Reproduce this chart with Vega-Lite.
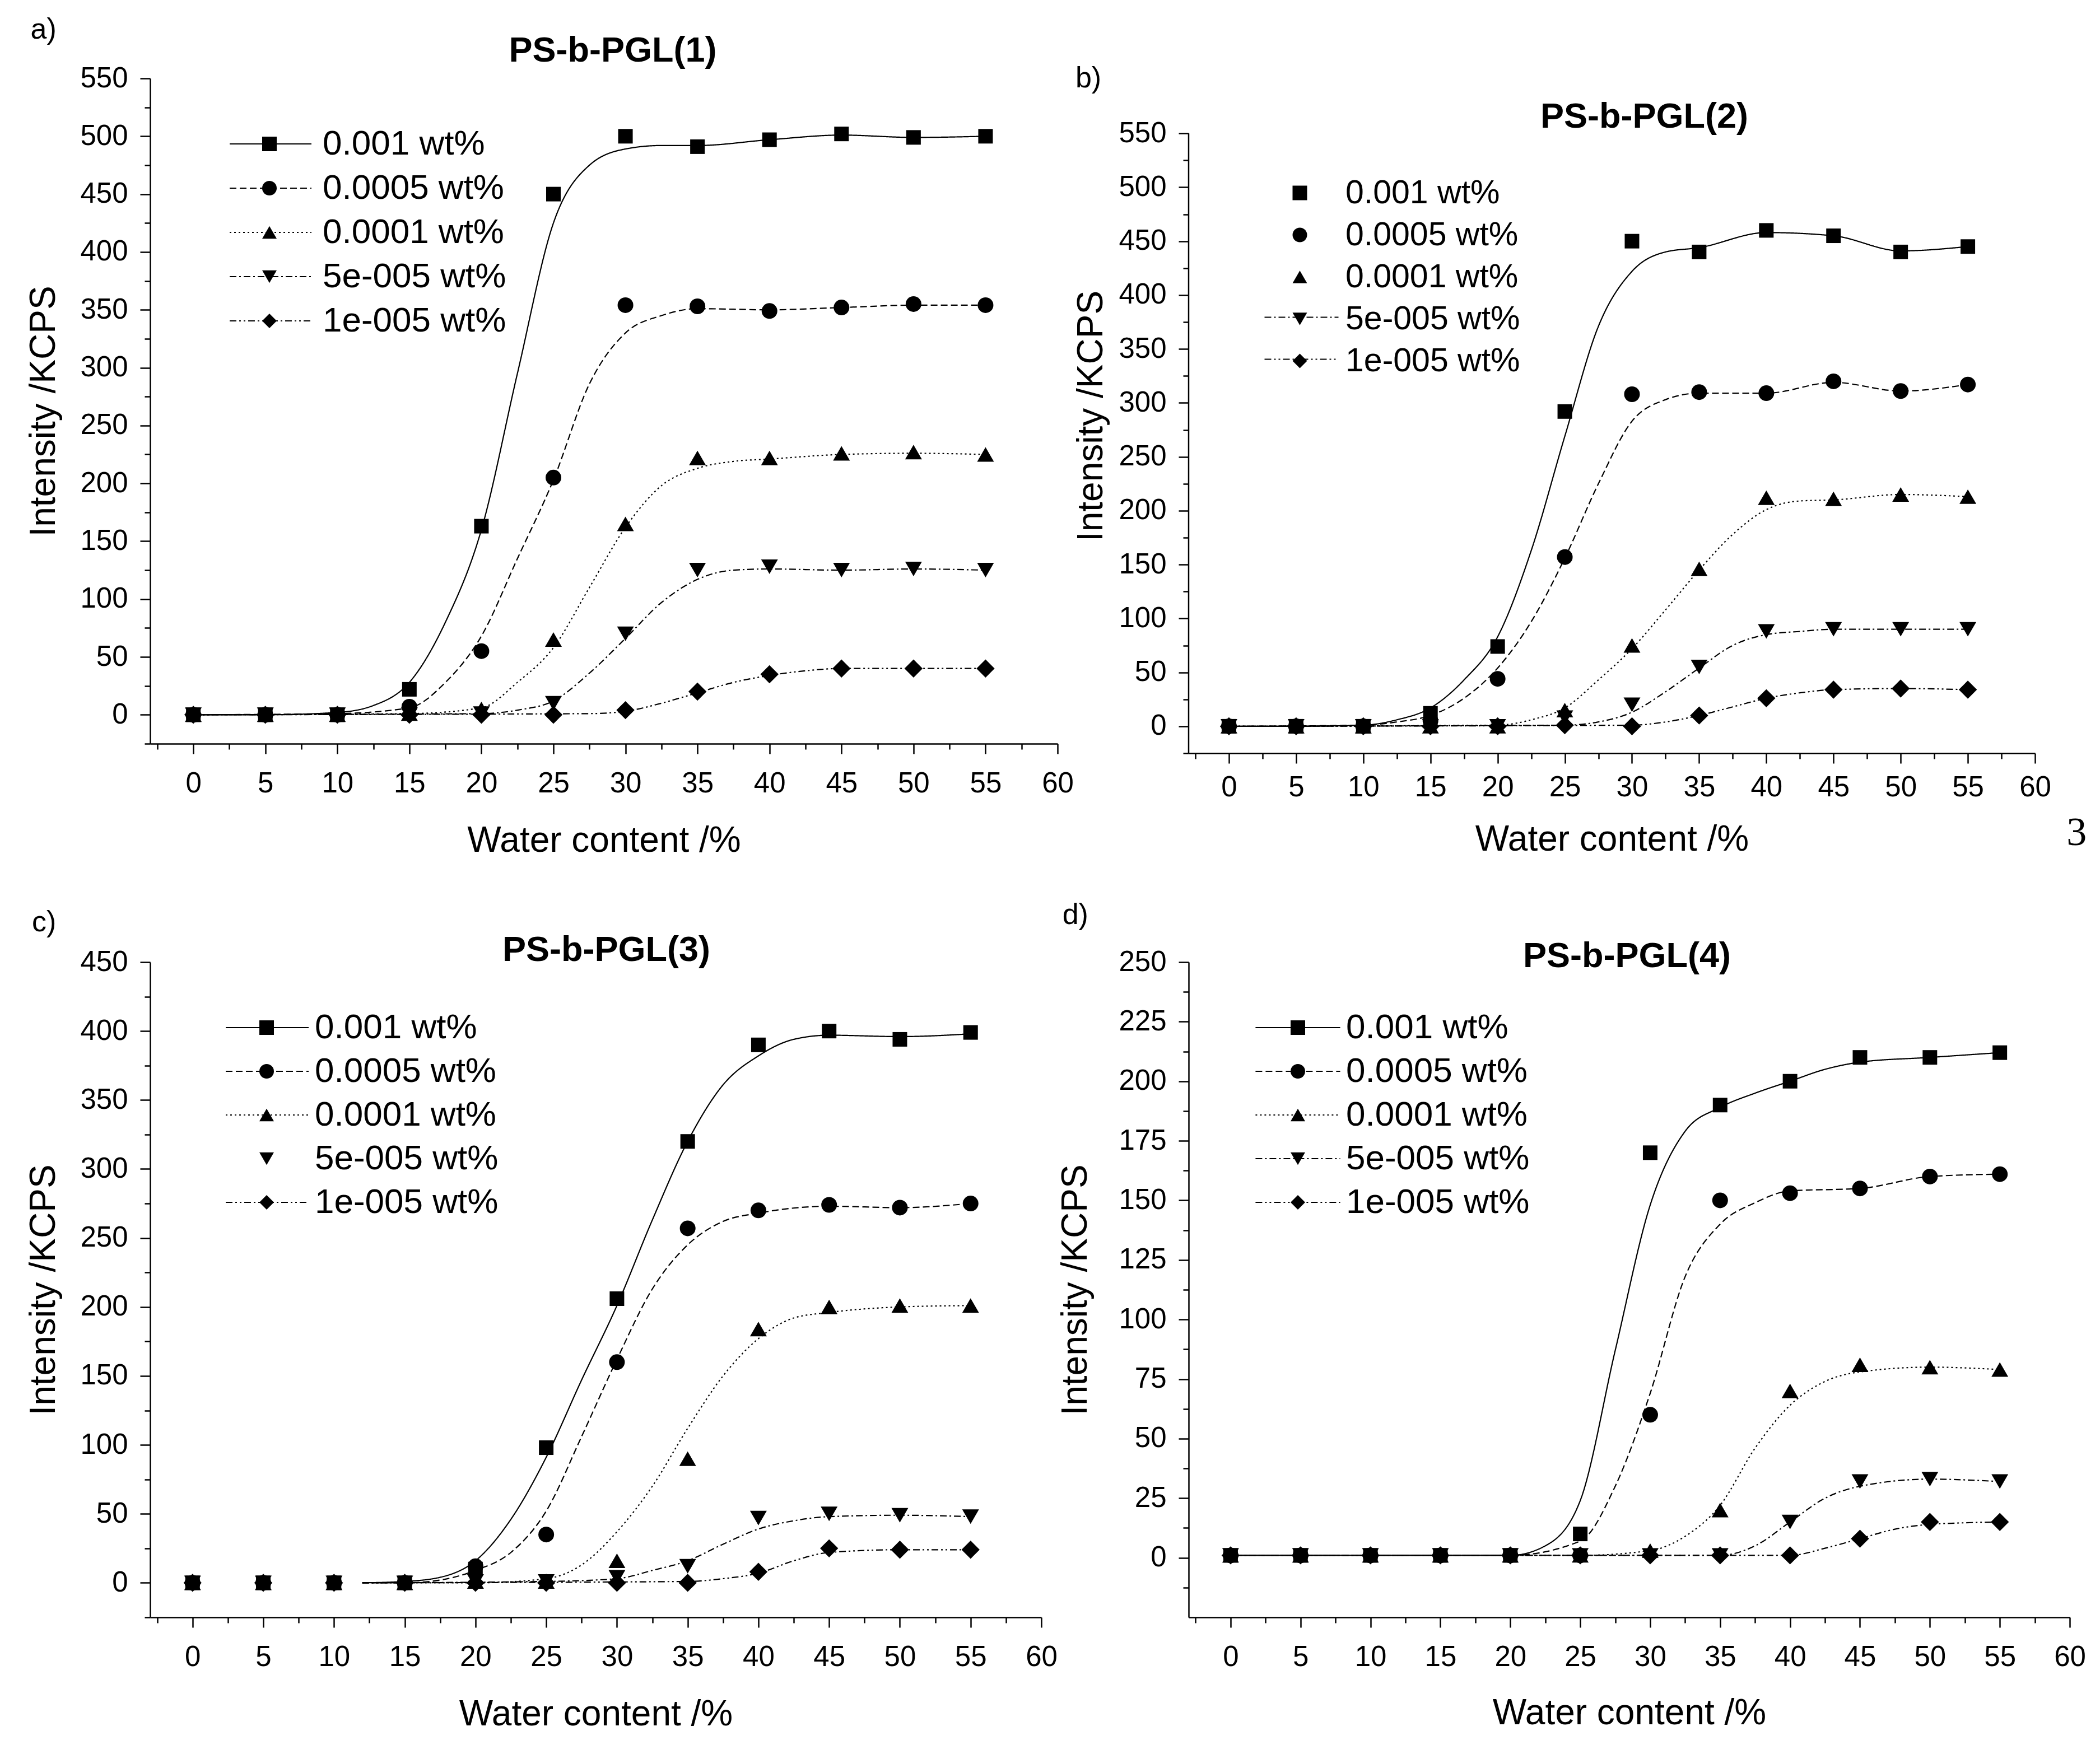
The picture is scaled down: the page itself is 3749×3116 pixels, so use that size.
{
"$schema": "https://vega.github.io/schema/vega-lite/v6.json",
"background": "white",
"padding": {"left": 46, "top": 27, "right": 0, "bottom": 0},
"columns": 2,
"spacing": {"row": 373, "column": 234},
"bounds": "flush",
"resolve": {"scale": {"shape": "independent", "strokeDash": "independent"}},
"config": {
 "font": "Liberation Sans",
 "view": {"stroke": null},
 "axis": {"grid": false, "domainColor": "black", "domainWidth": 2.5, "tickColor": "black", "tickWidth": 2.5, "labelColor": "black", "labelFontSize": 51, "titleColor": "black", "titleFontSize": 64, "titleFontWeight": "normal", "labelFont": "Liberation Sans", "titleFont": "Liberation Sans"},
 "title": {"fontSize": 63, "fontWeight": "bold", "color": "black", "anchor": "middle", "font": "Liberation Sans"},
 "legend": {"labelFontSize": 62, "labelColor": "black", "labelFont": "Liberation Sans", "labelLimit": 2000, "padding": 0, "title": null}
},
"datasets": {
"pts": [
{"p":"a","s":"0.001 wt%","x":0,"y":0},{"p":"a","s":"0.001 wt%","x":5,"y":0},{"p":"a","s":"0.001 wt%","x":10,"y":0},{"p":"a","s":"0.001 wt%","x":15,"y":22},{"p":"a","s":"0.001 wt%","x":20,"y":163},{"p":"a","s":"0.001 wt%","x":25,"y":450},{"p":"a","s":"0.001 wt%","x":30,"y":500},{"p":"a","s":"0.001 wt%","x":35,"y":491},{"p":"a","s":"0.001 wt%","x":40,"y":497},{"p":"a","s":"0.001 wt%","x":45,"y":502},{"p":"a","s":"0.001 wt%","x":50,"y":499},{"p":"a","s":"0.001 wt%","x":55,"y":500},
{"p":"a","s":"0.0005 wt%","x":0,"y":0},{"p":"a","s":"0.0005 wt%","x":5,"y":0},{"p":"a","s":"0.0005 wt%","x":10,"y":0},{"p":"a","s":"0.0005 wt%","x":15,"y":7},{"p":"a","s":"0.0005 wt%","x":20,"y":55},{"p":"a","s":"0.0005 wt%","x":25,"y":205},{"p":"a","s":"0.0005 wt%","x":30,"y":354},{"p":"a","s":"0.0005 wt%","x":35,"y":353},{"p":"a","s":"0.0005 wt%","x":40,"y":349},{"p":"a","s":"0.0005 wt%","x":45,"y":352},{"p":"a","s":"0.0005 wt%","x":50,"y":355},{"p":"a","s":"0.0005 wt%","x":55,"y":354},
{"p":"a","s":"0.0001 wt%","x":0,"y":0},{"p":"a","s":"0.0001 wt%","x":5,"y":0},{"p":"a","s":"0.0001 wt%","x":10,"y":0},{"p":"a","s":"0.0001 wt%","x":15,"y":1},{"p":"a","s":"0.0001 wt%","x":20,"y":5},{"p":"a","s":"0.0001 wt%","x":25,"y":65},{"p":"a","s":"0.0001 wt%","x":30,"y":165},{"p":"a","s":"0.0001 wt%","x":35,"y":222},{"p":"a","s":"0.0001 wt%","x":40,"y":222},{"p":"a","s":"0.0001 wt%","x":45,"y":226},{"p":"a","s":"0.0001 wt%","x":50,"y":227},{"p":"a","s":"0.0001 wt%","x":55,"y":225},
{"p":"a","s":"5e-005 wt%","x":0,"y":0},{"p":"a","s":"5e-005 wt%","x":5,"y":0},{"p":"a","s":"5e-005 wt%","x":10,"y":0},{"p":"a","s":"5e-005 wt%","x":15,"y":0},{"p":"a","s":"5e-005 wt%","x":20,"y":1},{"p":"a","s":"5e-005 wt%","x":25,"y":10},{"p":"a","s":"5e-005 wt%","x":30,"y":70},{"p":"a","s":"5e-005 wt%","x":35,"y":125},{"p":"a","s":"5e-005 wt%","x":40,"y":128},{"p":"a","s":"5e-005 wt%","x":45,"y":125},{"p":"a","s":"5e-005 wt%","x":50,"y":126},{"p":"a","s":"5e-005 wt%","x":55,"y":125},
{"p":"a","s":"1e-005 wt%","x":0,"y":0},{"p":"a","s":"1e-005 wt%","x":5,"y":0},{"p":"a","s":"1e-005 wt%","x":10,"y":0},{"p":"a","s":"1e-005 wt%","x":15,"y":0},{"p":"a","s":"1e-005 wt%","x":20,"y":0},{"p":"a","s":"1e-005 wt%","x":25,"y":0},{"p":"a","s":"1e-005 wt%","x":30,"y":4},{"p":"a","s":"1e-005 wt%","x":35,"y":20},{"p":"a","s":"1e-005 wt%","x":40,"y":35},{"p":"a","s":"1e-005 wt%","x":45,"y":40},{"p":"a","s":"1e-005 wt%","x":50,"y":40},{"p":"a","s":"1e-005 wt%","x":55,"y":40},
{"p":"b","s":"0.001 wt%","x":0,"y":0},{"p":"b","s":"0.001 wt%","x":5,"y":0},{"p":"b","s":"0.001 wt%","x":10,"y":0},{"p":"b","s":"0.001 wt%","x":15,"y":12},{"p":"b","s":"0.001 wt%","x":20,"y":74},{"p":"b","s":"0.001 wt%","x":25,"y":292},{"p":"b","s":"0.001 wt%","x":30,"y":450},{"p":"b","s":"0.001 wt%","x":35,"y":440},{"p":"b","s":"0.001 wt%","x":40,"y":460},{"p":"b","s":"0.001 wt%","x":45,"y":455},{"p":"b","s":"0.001 wt%","x":50,"y":440},{"p":"b","s":"0.001 wt%","x":55,"y":445},
{"p":"b","s":"0.0005 wt%","x":0,"y":0},{"p":"b","s":"0.0005 wt%","x":5,"y":0},{"p":"b","s":"0.0005 wt%","x":10,"y":0},{"p":"b","s":"0.0005 wt%","x":15,"y":5},{"p":"b","s":"0.0005 wt%","x":20,"y":44},{"p":"b","s":"0.0005 wt%","x":25,"y":157},{"p":"b","s":"0.0005 wt%","x":30,"y":308},{"p":"b","s":"0.0005 wt%","x":35,"y":310},{"p":"b","s":"0.0005 wt%","x":40,"y":309},{"p":"b","s":"0.0005 wt%","x":45,"y":320},{"p":"b","s":"0.0005 wt%","x":50,"y":311},{"p":"b","s":"0.0005 wt%","x":55,"y":317},
{"p":"b","s":"0.0001 wt%","x":0,"y":0},{"p":"b","s":"0.0001 wt%","x":5,"y":0},{"p":"b","s":"0.0001 wt%","x":10,"y":0},{"p":"b","s":"0.0001 wt%","x":15,"y":0},{"p":"b","s":"0.0001 wt%","x":20,"y":0},{"p":"b","s":"0.0001 wt%","x":25,"y":15},{"p":"b","s":"0.0001 wt%","x":30,"y":75},{"p":"b","s":"0.0001 wt%","x":35,"y":146},{"p":"b","s":"0.0001 wt%","x":40,"y":212},{"p":"b","s":"0.0001 wt%","x":45,"y":211},{"p":"b","s":"0.0001 wt%","x":50,"y":215},{"p":"b","s":"0.0001 wt%","x":55,"y":213},
{"p":"b","s":"5e-005 wt%","x":0,"y":0},{"p":"b","s":"5e-005 wt%","x":5,"y":0},{"p":"b","s":"5e-005 wt%","x":10,"y":0},{"p":"b","s":"5e-005 wt%","x":15,"y":0},{"p":"b","s":"5e-005 wt%","x":20,"y":0},{"p":"b","s":"5e-005 wt%","x":25,"y":8},{"p":"b","s":"5e-005 wt%","x":30,"y":20},{"p":"b","s":"5e-005 wt%","x":35,"y":55},{"p":"b","s":"5e-005 wt%","x":40,"y":88},{"p":"b","s":"5e-005 wt%","x":45,"y":90},{"p":"b","s":"5e-005 wt%","x":50,"y":90},{"p":"b","s":"5e-005 wt%","x":55,"y":90},
{"p":"b","s":"1e-005 wt%","x":0,"y":0},{"p":"b","s":"1e-005 wt%","x":5,"y":0},{"p":"b","s":"1e-005 wt%","x":10,"y":0},{"p":"b","s":"1e-005 wt%","x":15,"y":0},{"p":"b","s":"1e-005 wt%","x":20,"y":0},{"p":"b","s":"1e-005 wt%","x":25,"y":1},{"p":"b","s":"1e-005 wt%","x":30,"y":0},{"p":"b","s":"1e-005 wt%","x":35,"y":10},{"p":"b","s":"1e-005 wt%","x":40,"y":26},{"p":"b","s":"1e-005 wt%","x":45,"y":34},{"p":"b","s":"1e-005 wt%","x":50,"y":35},{"p":"b","s":"1e-005 wt%","x":55,"y":34},
{"p":"c","s":"0.001 wt%","x":0,"y":0},{"p":"c","s":"0.001 wt%","x":5,"y":0},{"p":"c","s":"0.001 wt%","x":10,"y":0},{"p":"c","s":"0.001 wt%","x":15,"y":0},{"p":"c","s":"0.001 wt%","x":20,"y":10},{"p":"c","s":"0.001 wt%","x":25,"y":98},{"p":"c","s":"0.001 wt%","x":30,"y":206},{"p":"c","s":"0.001 wt%","x":35,"y":320},{"p":"c","s":"0.001 wt%","x":40,"y":390},{"p":"c","s":"0.001 wt%","x":45,"y":400},{"p":"c","s":"0.001 wt%","x":50,"y":394},{"p":"c","s":"0.001 wt%","x":55,"y":399},
{"p":"c","s":"0.0005 wt%","x":0,"y":0},{"p":"c","s":"0.0005 wt%","x":5,"y":0},{"p":"c","s":"0.0005 wt%","x":10,"y":0},{"p":"c","s":"0.0005 wt%","x":15,"y":0},{"p":"c","s":"0.0005 wt%","x":20,"y":12},{"p":"c","s":"0.0005 wt%","x":25,"y":35},{"p":"c","s":"0.0005 wt%","x":30,"y":160},{"p":"c","s":"0.0005 wt%","x":35,"y":257},{"p":"c","s":"0.0005 wt%","x":40,"y":270},{"p":"c","s":"0.0005 wt%","x":45,"y":274},{"p":"c","s":"0.0005 wt%","x":50,"y":272},{"p":"c","s":"0.0005 wt%","x":55,"y":275},
{"p":"c","s":"0.0001 wt%","x":0,"y":0},{"p":"c","s":"0.0001 wt%","x":5,"y":0},{"p":"c","s":"0.0001 wt%","x":10,"y":0},{"p":"c","s":"0.0001 wt%","x":15,"y":0},{"p":"c","s":"0.0001 wt%","x":20,"y":1},{"p":"c","s":"0.0001 wt%","x":25,"y":1},{"p":"c","s":"0.0001 wt%","x":30,"y":16},{"p":"c","s":"0.0001 wt%","x":35,"y":90},{"p":"c","s":"0.0001 wt%","x":40,"y":184},{"p":"c","s":"0.0001 wt%","x":45,"y":200},{"p":"c","s":"0.0001 wt%","x":50,"y":201},{"p":"c","s":"0.0001 wt%","x":55,"y":201},
{"p":"c","s":"5e-005 wt%","x":0,"y":0},{"p":"c","s":"5e-005 wt%","x":5,"y":0},{"p":"c","s":"5e-005 wt%","x":10,"y":0},{"p":"c","s":"5e-005 wt%","x":15,"y":0},{"p":"c","s":"5e-005 wt%","x":20,"y":1},{"p":"c","s":"5e-005 wt%","x":25,"y":1},{"p":"c","s":"5e-005 wt%","x":30,"y":4},{"p":"c","s":"5e-005 wt%","x":35,"y":12},{"p":"c","s":"5e-005 wt%","x":40,"y":47},{"p":"c","s":"5e-005 wt%","x":45,"y":50},{"p":"c","s":"5e-005 wt%","x":50,"y":49},{"p":"c","s":"5e-005 wt%","x":55,"y":48},
{"p":"c","s":"1e-005 wt%","x":0,"y":0},{"p":"c","s":"1e-005 wt%","x":5,"y":0},{"p":"c","s":"1e-005 wt%","x":10,"y":0},{"p":"c","s":"1e-005 wt%","x":15,"y":0},{"p":"c","s":"1e-005 wt%","x":20,"y":0},{"p":"c","s":"1e-005 wt%","x":25,"y":0},{"p":"c","s":"1e-005 wt%","x":30,"y":0},{"p":"c","s":"1e-005 wt%","x":35,"y":0},{"p":"c","s":"1e-005 wt%","x":40,"y":8},{"p":"c","s":"1e-005 wt%","x":45,"y":25},{"p":"c","s":"1e-005 wt%","x":50,"y":24},{"p":"c","s":"1e-005 wt%","x":55,"y":24},
{"p":"d","s":"0.001 wt%","x":0,"y":1},{"p":"d","s":"0.001 wt%","x":5,"y":1},{"p":"d","s":"0.001 wt%","x":10,"y":1},{"p":"d","s":"0.001 wt%","x":15,"y":1},{"p":"d","s":"0.001 wt%","x":20,"y":1},{"p":"d","s":"0.001 wt%","x":25,"y":10},{"p":"d","s":"0.001 wt%","x":30,"y":170},{"p":"d","s":"0.001 wt%","x":35,"y":190},{"p":"d","s":"0.001 wt%","x":40,"y":200},{"p":"d","s":"0.001 wt%","x":45,"y":210},{"p":"d","s":"0.001 wt%","x":50,"y":210},{"p":"d","s":"0.001 wt%","x":55,"y":212},
{"p":"d","s":"0.0005 wt%","x":0,"y":1},{"p":"d","s":"0.0005 wt%","x":5,"y":1},{"p":"d","s":"0.0005 wt%","x":10,"y":1},{"p":"d","s":"0.0005 wt%","x":15,"y":1},{"p":"d","s":"0.0005 wt%","x":20,"y":1},{"p":"d","s":"0.0005 wt%","x":25,"y":1},{"p":"d","s":"0.0005 wt%","x":30,"y":60},{"p":"d","s":"0.0005 wt%","x":35,"y":150},{"p":"d","s":"0.0005 wt%","x":40,"y":153},{"p":"d","s":"0.0005 wt%","x":45,"y":155},{"p":"d","s":"0.0005 wt%","x":50,"y":160},{"p":"d","s":"0.0005 wt%","x":55,"y":161},
{"p":"d","s":"0.0001 wt%","x":0,"y":1},{"p":"d","s":"0.0001 wt%","x":5,"y":1},{"p":"d","s":"0.0001 wt%","x":10,"y":1},{"p":"d","s":"0.0001 wt%","x":15,"y":1},{"p":"d","s":"0.0001 wt%","x":20,"y":1},{"p":"d","s":"0.0001 wt%","x":25,"y":1},{"p":"d","s":"0.0001 wt%","x":30,"y":3},{"p":"d","s":"0.0001 wt%","x":35,"y":20},{"p":"d","s":"0.0001 wt%","x":40,"y":70},{"p":"d","s":"0.0001 wt%","x":45,"y":81},{"p":"d","s":"0.0001 wt%","x":50,"y":80},{"p":"d","s":"0.0001 wt%","x":55,"y":79},
{"p":"d","s":"5e-005 wt%","x":0,"y":1},{"p":"d","s":"5e-005 wt%","x":5,"y":1},{"p":"d","s":"5e-005 wt%","x":10,"y":1},{"p":"d","s":"5e-005 wt%","x":15,"y":1},{"p":"d","s":"5e-005 wt%","x":20,"y":1},{"p":"d","s":"5e-005 wt%","x":25,"y":1},{"p":"d","s":"5e-005 wt%","x":30,"y":1},{"p":"d","s":"5e-005 wt%","x":35,"y":1},{"p":"d","s":"5e-005 wt%","x":40,"y":15},{"p":"d","s":"5e-005 wt%","x":45,"y":32},{"p":"d","s":"5e-005 wt%","x":50,"y":33},{"p":"d","s":"5e-005 wt%","x":55,"y":32},
{"p":"d","s":"1e-005 wt%","x":0,"y":1},{"p":"d","s":"1e-005 wt%","x":5,"y":1},{"p":"d","s":"1e-005 wt%","x":10,"y":1},{"p":"d","s":"1e-005 wt%","x":15,"y":1},{"p":"d","s":"1e-005 wt%","x":20,"y":1},{"p":"d","s":"1e-005 wt%","x":25,"y":1},{"p":"d","s":"1e-005 wt%","x":30,"y":1},{"p":"d","s":"1e-005 wt%","x":35,"y":1},{"p":"d","s":"1e-005 wt%","x":40,"y":1},{"p":"d","s":"1e-005 wt%","x":45,"y":8},{"p":"d","s":"1e-005 wt%","x":50,"y":15},{"p":"d","s":"1e-005 wt%","x":55,"y":15}
],
"fit": [
{"p":"a","s":"0.001 wt%","x":0,"y":0},{"p":"a","s":"0.001 wt%","x":5,"y":0},{"p":"a","s":"0.001 wt%","x":10,"y":2},{"p":"a","s":"0.001 wt%","x":12.5,"y":8},{"p":"a","s":"0.001 wt%","x":15,"y":28},{"p":"a","s":"0.001 wt%","x":17.5,"y":80},{"p":"a","s":"0.001 wt%","x":20,"y":160},{"p":"a","s":"0.001 wt%","x":22.5,"y":295},{"p":"a","s":"0.001 wt%","x":25,"y":425},{"p":"a","s":"0.001 wt%","x":27.5,"y":475},{"p":"a","s":"0.001 wt%","x":30,"y":489},{"p":"a","s":"0.001 wt%","x":32.5,"y":492},{"p":"a","s":"0.001 wt%","x":35,"y":492},{"p":"a","s":"0.001 wt%","x":40,"y":497},{"p":"a","s":"0.001 wt%","x":45,"y":501},{"p":"a","s":"0.001 wt%","x":50,"y":499},{"p":"a","s":"0.001 wt%","x":55,"y":500},
{"p":"a","s":"0.0005 wt%","x":0,"y":0},{"p":"a","s":"0.0005 wt%","x":10,"y":1},{"p":"a","s":"0.0005 wt%","x":15,"y":6},{"p":"a","s":"0.0005 wt%","x":17.5,"y":28},{"p":"a","s":"0.0005 wt%","x":20,"y":68},{"p":"a","s":"0.0005 wt%","x":22.5,"y":135},{"p":"a","s":"0.0005 wt%","x":25,"y":203},{"p":"a","s":"0.0005 wt%","x":27.5,"y":286},{"p":"a","s":"0.0005 wt%","x":30,"y":330},{"p":"a","s":"0.0005 wt%","x":32.5,"y":345},{"p":"a","s":"0.0005 wt%","x":35,"y":351},{"p":"a","s":"0.0005 wt%","x":40,"y":350},{"p":"a","s":"0.0005 wt%","x":45,"y":352},{"p":"a","s":"0.0005 wt%","x":50,"y":354},{"p":"a","s":"0.0005 wt%","x":55,"y":354},
{"p":"a","s":"0.0001 wt%","x":0,"y":0},{"p":"a","s":"0.0001 wt%","x":15,"y":1},{"p":"a","s":"0.0001 wt%","x":20,"y":6},{"p":"a","s":"0.0001 wt%","x":22.5,"y":28},{"p":"a","s":"0.0001 wt%","x":25,"y":58},{"p":"a","s":"0.0001 wt%","x":27.5,"y":110},{"p":"a","s":"0.0001 wt%","x":30,"y":162},{"p":"a","s":"0.0001 wt%","x":32.5,"y":198},{"p":"a","s":"0.0001 wt%","x":35,"y":213},{"p":"a","s":"0.0001 wt%","x":37.5,"y":219},{"p":"a","s":"0.0001 wt%","x":40,"y":221},{"p":"a","s":"0.0001 wt%","x":45,"y":225},{"p":"a","s":"0.0001 wt%","x":50,"y":226},{"p":"a","s":"0.0001 wt%","x":55,"y":225},
{"p":"a","s":"5e-005 wt%","x":0,"y":0},{"p":"a","s":"5e-005 wt%","x":20,"y":1},{"p":"a","s":"5e-005 wt%","x":22.5,"y":4},{"p":"a","s":"5e-005 wt%","x":25,"y":12},{"p":"a","s":"5e-005 wt%","x":27.5,"y":36},{"p":"a","s":"5e-005 wt%","x":30,"y":66},{"p":"a","s":"5e-005 wt%","x":32.5,"y":97},{"p":"a","s":"5e-005 wt%","x":35,"y":117},{"p":"a","s":"5e-005 wt%","x":37.5,"y":125},{"p":"a","s":"5e-005 wt%","x":40,"y":126},{"p":"a","s":"5e-005 wt%","x":45,"y":125},{"p":"a","s":"5e-005 wt%","x":50,"y":126},{"p":"a","s":"5e-005 wt%","x":55,"y":125},
{"p":"a","s":"1e-005 wt%","x":0,"y":0},{"p":"a","s":"1e-005 wt%","x":27.5,"y":1},{"p":"a","s":"1e-005 wt%","x":30,"y":3},{"p":"a","s":"1e-005 wt%","x":32.5,"y":10},{"p":"a","s":"1e-005 wt%","x":35,"y":19},{"p":"a","s":"1e-005 wt%","x":37.5,"y":28},{"p":"a","s":"1e-005 wt%","x":40,"y":34},{"p":"a","s":"1e-005 wt%","x":42.5,"y":38},{"p":"a","s":"1e-005 wt%","x":45,"y":40},{"p":"a","s":"1e-005 wt%","x":50,"y":40},{"p":"a","s":"1e-005 wt%","x":55,"y":40},
{"p":"b","s":"0.001 wt%","x":0,"y":0},{"p":"b","s":"0.001 wt%","x":5,"y":0},{"p":"b","s":"0.001 wt%","x":10,"y":1},{"p":"b","s":"0.001 wt%","x":12.5,"y":6},{"p":"b","s":"0.001 wt%","x":15,"y":17},{"p":"b","s":"0.001 wt%","x":17.5,"y":43},{"p":"b","s":"0.001 wt%","x":20,"y":83},{"p":"b","s":"0.001 wt%","x":22.5,"y":163},{"p":"b","s":"0.001 wt%","x":25,"y":269},{"p":"b","s":"0.001 wt%","x":27.5,"y":371},{"p":"b","s":"0.001 wt%","x":30,"y":422},{"p":"b","s":"0.001 wt%","x":32.5,"y":440},{"p":"b","s":"0.001 wt%","x":35,"y":444},{"p":"b","s":"0.001 wt%","x":40,"y":458},{"p":"b","s":"0.001 wt%","x":45,"y":455},{"p":"b","s":"0.001 wt%","x":50,"y":441},{"p":"b","s":"0.001 wt%","x":55,"y":445},
{"p":"b","s":"0.0005 wt%","x":0,"y":0},{"p":"b","s":"0.0005 wt%","x":10,"y":1},{"p":"b","s":"0.0005 wt%","x":12.5,"y":4},{"p":"b","s":"0.0005 wt%","x":15,"y":10},{"p":"b","s":"0.0005 wt%","x":17.5,"y":26},{"p":"b","s":"0.0005 wt%","x":20,"y":54},{"p":"b","s":"0.0005 wt%","x":22.5,"y":97},{"p":"b","s":"0.0005 wt%","x":25,"y":156},{"p":"b","s":"0.0005 wt%","x":27.5,"y":225},{"p":"b","s":"0.0005 wt%","x":30,"y":283},{"p":"b","s":"0.0005 wt%","x":32.5,"y":303},{"p":"b","s":"0.0005 wt%","x":35,"y":309},{"p":"b","s":"0.0005 wt%","x":40,"y":309},{"p":"b","s":"0.0005 wt%","x":45,"y":319},{"p":"b","s":"0.0005 wt%","x":50,"y":311},{"p":"b","s":"0.0005 wt%","x":55,"y":317},
{"p":"b","s":"0.0001 wt%","x":0,"y":0},{"p":"b","s":"0.0001 wt%","x":20,"y":1},{"p":"b","s":"0.0001 wt%","x":22.5,"y":6},{"p":"b","s":"0.0001 wt%","x":25,"y":17},{"p":"b","s":"0.0001 wt%","x":27.5,"y":43},{"p":"b","s":"0.0001 wt%","x":30,"y":72},{"p":"b","s":"0.0001 wt%","x":32.5,"y":108},{"p":"b","s":"0.0001 wt%","x":35,"y":145},{"p":"b","s":"0.0001 wt%","x":37.5,"y":178},{"p":"b","s":"0.0001 wt%","x":40,"y":201},{"p":"b","s":"0.0001 wt%","x":42.5,"y":209},{"p":"b","s":"0.0001 wt%","x":45,"y":210},{"p":"b","s":"0.0001 wt%","x":50,"y":215},{"p":"b","s":"0.0001 wt%","x":55,"y":213},
{"p":"b","s":"5e-005 wt%","x":0,"y":0},{"p":"b","s":"5e-005 wt%","x":25,"y":1},{"p":"b","s":"5e-005 wt%","x":27.5,"y":4},{"p":"b","s":"5e-005 wt%","x":30,"y":13},{"p":"b","s":"5e-005 wt%","x":32.5,"y":32},{"p":"b","s":"5e-005 wt%","x":35,"y":54},{"p":"b","s":"5e-005 wt%","x":37.5,"y":75},{"p":"b","s":"5e-005 wt%","x":40,"y":85},{"p":"b","s":"5e-005 wt%","x":42.5,"y":88},{"p":"b","s":"5e-005 wt%","x":45,"y":90},{"p":"b","s":"5e-005 wt%","x":50,"y":90},{"p":"b","s":"5e-005 wt%","x":55,"y":90},
{"p":"b","s":"1e-005 wt%","x":0,"y":0},{"p":"b","s":"1e-005 wt%","x":30,"y":1},{"p":"b","s":"1e-005 wt%","x":32.5,"y":4},{"p":"b","s":"1e-005 wt%","x":35,"y":10},{"p":"b","s":"1e-005 wt%","x":37.5,"y":18},{"p":"b","s":"1e-005 wt%","x":40,"y":26},{"p":"b","s":"1e-005 wt%","x":42.5,"y":31},{"p":"b","s":"1e-005 wt%","x":45,"y":34},{"p":"b","s":"1e-005 wt%","x":50,"y":35},{"p":"b","s":"1e-005 wt%","x":55,"y":34},
{"p":"c","s":"0.001 wt%","x":12,"y":0},{"p":"c","s":"0.001 wt%","x":15,"y":1},{"p":"c","s":"0.001 wt%","x":17.5,"y":4},{"p":"c","s":"0.001 wt%","x":20,"y":16},{"p":"c","s":"0.001 wt%","x":22.5,"y":46},{"p":"c","s":"0.001 wt%","x":25,"y":91},{"p":"c","s":"0.001 wt%","x":27.5,"y":147},{"p":"c","s":"0.001 wt%","x":30,"y":201},{"p":"c","s":"0.001 wt%","x":32.5,"y":263},{"p":"c","s":"0.001 wt%","x":35,"y":320},{"p":"c","s":"0.001 wt%","x":37.5,"y":361},{"p":"c","s":"0.001 wt%","x":40,"y":382},{"p":"c","s":"0.001 wt%","x":42.5,"y":394},{"p":"c","s":"0.001 wt%","x":45,"y":397},{"p":"c","s":"0.001 wt%","x":50,"y":396},{"p":"c","s":"0.001 wt%","x":55,"y":398},
{"p":"c","s":"0.0005 wt%","x":12,"y":0},{"p":"c","s":"0.0005 wt%","x":15,"y":0},{"p":"c","s":"0.0005 wt%","x":17.5,"y":2},{"p":"c","s":"0.0005 wt%","x":20,"y":9},{"p":"c","s":"0.0005 wt%","x":22.5,"y":22},{"p":"c","s":"0.0005 wt%","x":25,"y":52},{"p":"c","s":"0.0005 wt%","x":27.5,"y":106},{"p":"c","s":"0.0005 wt%","x":30,"y":162},{"p":"c","s":"0.0005 wt%","x":32.5,"y":213},{"p":"c","s":"0.0005 wt%","x":35,"y":245},{"p":"c","s":"0.0005 wt%","x":37.5,"y":262},{"p":"c","s":"0.0005 wt%","x":40,"y":268},{"p":"c","s":"0.0005 wt%","x":45,"y":273},{"p":"c","s":"0.0005 wt%","x":50,"y":272},{"p":"c","s":"0.0005 wt%","x":55,"y":275},
{"p":"c","s":"0.0001 wt%","x":12,"y":0},{"p":"c","s":"0.0001 wt%","x":20,"y":0},{"p":"c","s":"0.0001 wt%","x":25,"y":3},{"p":"c","s":"0.0001 wt%","x":27.5,"y":13},{"p":"c","s":"0.0001 wt%","x":30,"y":37},{"p":"c","s":"0.0001 wt%","x":32.5,"y":70},{"p":"c","s":"0.0001 wt%","x":35,"y":112},{"p":"c","s":"0.0001 wt%","x":37.5,"y":150},{"p":"c","s":"0.0001 wt%","x":40,"y":177},{"p":"c","s":"0.0001 wt%","x":42.5,"y":192},{"p":"c","s":"0.0001 wt%","x":45,"y":196},{"p":"c","s":"0.0001 wt%","x":50,"y":200},{"p":"c","s":"0.0001 wt%","x":55,"y":201},
{"p":"c","s":"5e-005 wt%","x":12,"y":0},{"p":"c","s":"5e-005 wt%","x":25,"y":1},{"p":"c","s":"5e-005 wt%","x":30,"y":3},{"p":"c","s":"5e-005 wt%","x":32.5,"y":9},{"p":"c","s":"5e-005 wt%","x":35,"y":16},{"p":"c","s":"5e-005 wt%","x":37.5,"y":28},{"p":"c","s":"5e-005 wt%","x":40,"y":39},{"p":"c","s":"5e-005 wt%","x":42.5,"y":45},{"p":"c","s":"5e-005 wt%","x":45,"y":48},{"p":"c","s":"5e-005 wt%","x":50,"y":49},{"p":"c","s":"5e-005 wt%","x":55,"y":48},
{"p":"c","s":"1e-005 wt%","x":12,"y":0},{"p":"c","s":"1e-005 wt%","x":35,"y":1},{"p":"c","s":"1e-005 wt%","x":37.5,"y":3},{"p":"c","s":"1e-005 wt%","x":40,"y":7},{"p":"c","s":"1e-005 wt%","x":42.5,"y":16},{"p":"c","s":"1e-005 wt%","x":45,"y":22},{"p":"c","s":"1e-005 wt%","x":50,"y":24},{"p":"c","s":"1e-005 wt%","x":55,"y":24},
{"p":"d","s":"0.001 wt%","x":0,"y":1},{"p":"d","s":"0.001 wt%","x":20,"y":1},{"p":"d","s":"0.001 wt%","x":22.5,"y":5},{"p":"d","s":"0.001 wt%","x":25,"y":24},{"p":"d","s":"0.001 wt%","x":27.5,"y":87},{"p":"d","s":"0.001 wt%","x":30,"y":148},{"p":"d","s":"0.001 wt%","x":32.5,"y":179},{"p":"d","s":"0.001 wt%","x":35,"y":189},{"p":"d","s":"0.001 wt%","x":37.5,"y":195},{"p":"d","s":"0.001 wt%","x":40,"y":200},{"p":"d","s":"0.001 wt%","x":42.5,"y":205},{"p":"d","s":"0.001 wt%","x":45,"y":208},{"p":"d","s":"0.001 wt%","x":50,"y":210},{"p":"d","s":"0.001 wt%","x":55,"y":212},
{"p":"d","s":"0.0005 wt%","x":0,"y":1},{"p":"d","s":"0.0005 wt%","x":20,"y":1},{"p":"d","s":"0.0005 wt%","x":25,"y":7},{"p":"d","s":"0.0005 wt%","x":27.5,"y":30},{"p":"d","s":"0.0005 wt%","x":30,"y":69},{"p":"d","s":"0.0005 wt%","x":32.5,"y":118},{"p":"d","s":"0.0005 wt%","x":35,"y":140},{"p":"d","s":"0.0005 wt%","x":37.5,"y":149},{"p":"d","s":"0.0005 wt%","x":40,"y":154},{"p":"d","s":"0.0005 wt%","x":45,"y":155},{"p":"d","s":"0.0005 wt%","x":50,"y":160},{"p":"d","s":"0.0005 wt%","x":55,"y":161},
{"p":"d","s":"0.0001 wt%","x":0,"y":1},{"p":"d","s":"0.0001 wt%","x":25,"y":1},{"p":"d","s":"0.0001 wt%","x":30,"y":3},{"p":"d","s":"0.0001 wt%","x":32.5,"y":9},{"p":"d","s":"0.0001 wt%","x":35,"y":22},{"p":"d","s":"0.0001 wt%","x":37.5,"y":46},{"p":"d","s":"0.0001 wt%","x":40,"y":64},{"p":"d","s":"0.0001 wt%","x":42.5,"y":74},{"p":"d","s":"0.0001 wt%","x":45,"y":78},{"p":"d","s":"0.0001 wt%","x":50,"y":80},{"p":"d","s":"0.0001 wt%","x":55,"y":79},
{"p":"d","s":"5e-005 wt%","x":0,"y":1},{"p":"d","s":"5e-005 wt%","x":32.5,"y":1},{"p":"d","s":"5e-005 wt%","x":35,"y":1},{"p":"d","s":"5e-005 wt%","x":37.5,"y":5},{"p":"d","s":"5e-005 wt%","x":40,"y":15},{"p":"d","s":"5e-005 wt%","x":42.5,"y":25},{"p":"d","s":"5e-005 wt%","x":45,"y":30},{"p":"d","s":"5e-005 wt%","x":50,"y":33},{"p":"d","s":"5e-005 wt%","x":55,"y":32},
{"p":"d","s":"1e-005 wt%","x":0,"y":1},{"p":"d","s":"1e-005 wt%","x":37.5,"y":1},{"p":"d","s":"1e-005 wt%","x":40,"y":1},{"p":"d","s":"1e-005 wt%","x":42.5,"y":4},{"p":"d","s":"1e-005 wt%","x":45,"y":8},{"p":"d","s":"1e-005 wt%","x":47.5,"y":12},{"p":"d","s":"1e-005 wt%","x":50,"y":14},{"p":"d","s":"1e-005 wt%","x":55,"y":15}
]
},
"concat": [
{
 "width": 1620, "height": 1188,
 "title": {"text": "PS-b-PGL(1)", "frame": "group", "dx": 16, "offset": 0, "dy": 96},
 "layer": [
  {"data": {"name": "fit"}, "transform": [{"filter": "datum.p == 'a'"}],
   "mark": {"type": "line", "interpolate": "monotone", "strokeWidth": 2.2, "color": "black"},
   "encoding": {
    "x": {"field": "x", "type": "quantitative", "scale": {"domain": [-3, 60], "nice": false, "zero": false},
     "axis": {"title": "Water content /%", "values": [-2.5,0,2.5,5,7.5,10,12.5,15,17.5,20,22.5,25,27.5,30,32.5,35,37.5,40,42.5,45,47.5,50,52.5,55,57.5,60], "labelExpr": "datum.value % 5 == 0 ? datum.label : ''", "tickSize": {"condition": {"test": "datum.value % 5 == 0", "value": 18}, "value": 10}, "labelOverlap": false, "labelFlush": false, "labelPadding": 28, "titlePadding": 45}},
    "y": {"field": "y", "type": "quantitative", "scale": {"domain": [-25, 550], "nice": false, "zero": false},
     "axis": {"title": "Intensity /KCPS", "values": [-25,0,25,50,75,100,125,150,175,200,225,250,275,300,325,350,375,400,425,450,475,500,525,550], "labelExpr": "datum.value >= 0 && datum.value % 50 == 0 ? datum.label : ''", "tickSize": {"condition": {"test": "datum.value >= 0 && datum.value % 50 == 0", "value": 18}, "value": 10}, "labelOverlap": false, "labelFlush": false, "labelPadding": 22, "titlePadding": 32}},
    "strokeDash": {"field": "s", "type": "nominal", "scale": {"domain": ["0.001 wt%","0.0005 wt%","0.0001 wt%","5e-005 wt%","1e-005 wt%"], "range": [[1,0],[12,6],[3,5],[12,5,3,5],[12,5,3,5,3,5]]},
     "legend": {"orient": "none", "legendX": 184, "legendY": 86, "symbolType": "M-3.65,0H3.65", "symbolSize": 1600, "symbolStrokeWidth": 2.2, "symbolStrokeColor": "black", "labelExpr": "''", "labelOpacity": 0, "labelFontSize": 62, "rowPadding": 17, "labelLimit": 2000}}
   }},
  {"data": {"name": "pts"}, "transform": [{"filter": "datum.p == 'a' && datum.s == '0.001 wt%'"}], "mark": {"type": "point", "shape": "square", "filled": true, "color": "black", "opacity": 1, "size": 676}, "encoding": {"x": {"field": "x", "type": "quantitative"}, "y": {"field": "y", "type": "quantitative"}}},
  {"data": {"name": "pts"}, "transform": [{"filter": "datum.p == 'a' && datum.s == '0.0005 wt%'"}], "mark": {"type": "point", "shape": "circle", "filled": true, "color": "black", "opacity": 1, "size": 784}, "encoding": {"x": {"field": "x", "type": "quantitative"}, "y": {"field": "y", "type": "quantitative"}}},
  {"data": {"name": "pts"}, "transform": [{"filter": "datum.p == 'a' && datum.s == '0.0001 wt%'"}], "mark": {"type": "point", "shape": "triangle-up", "filled": true, "color": "black", "opacity": 1, "size": 900}, "encoding": {"x": {"field": "x", "type": "quantitative"}, "y": {"field": "y", "type": "quantitative"}}},
  {"data": {"name": "pts"}, "transform": [{"filter": "datum.p == 'a' && datum.s == '5e-005 wt%'"}], "mark": {"type": "point", "shape": "triangle-down", "filled": true, "color": "black", "opacity": 1, "size": 900}, "encoding": {"x": {"field": "x", "type": "quantitative"}, "y": {"field": "y", "type": "quantitative"}}},
  {"data": {"name": "pts"}, "transform": [{"filter": "datum.p == 'a' && datum.s == '1e-005 wt%'"}], "mark": {"type": "point", "shape": "diamond", "filled": true, "color": "black", "opacity": 1, "size": 1050}, "encoding": {"x": {"field": "x", "type": "quantitative"}, "y": {"field": "y", "type": "quantitative"}}},
  {"data": {"values": []},
   "mark": {"type": "point", "filled": true, "color": "black", "opacity": 1},
   "encoding": {
    "shape": {"field": "s", "type": "nominal", "scale": {"domain": ["0.001 wt%","0.0005 wt%","0.0001 wt%","5e-005 wt%","1e-005 wt%","1e-005 wt%"], "range": ["square","circle","triangle-up","triangle-down","diamond"]},
     "legend": {"orient": "none", "legendX": 182, "legendY": 86, "symbolSize": 676, "symbolStrokeWidth": 0, "symbolFillColor": "black", "labelOffset": 64, "rowPadding": 17, "labelFontSize": 62, "labelLimit": 2000}}
   }},
  {"data": {"values": [{}]},
   "mark": {"type": "text", "text": "a)", "fontSize": 52, "align": "center", "baseline": "middle", "color": "black"},
   "encoding": {"x": {"datum": -10.4}, "y": {"datum": 592}}}
 ]
},
{
 "width": 1511, "height": 1205,
 "title": {"text": "PS-b-PGL(2)", "frame": "group", "dx": 58, "offset": 0, "dy": 127},
 "layer": [
  {"data": {"name": "fit"}, "transform": [{"filter": "datum.p == 'b'"}],
   "mark": {"type": "line", "interpolate": "monotone", "strokeWidth": 2.2, "color": "black"},
   "encoding": {
    "x": {"field": "x", "type": "quantitative", "scale": {"domain": [-3, 60], "nice": false, "zero": false},
     "axis": {"title": "Water content /%", "values": [-2.5,0,2.5,5,7.5,10,12.5,15,17.5,20,22.5,25,27.5,30,32.5,35,37.5,40,42.5,45,47.5,50,52.5,55,57.5,60], "labelExpr": "datum.value % 5 == 0 ? datum.label : ''", "tickSize": {"condition": {"test": "datum.value % 5 == 0", "value": 18}, "value": 10}, "labelOverlap": false, "labelFlush": false, "labelPadding": 18, "titlePadding": 36}},
    "y": {"field": "y", "type": "quantitative", "scale": {"domain": [-25, 601], "nice": false, "zero": false},
     "axis": {"title": "Intensity /KCPS", "domain": false, "values": [-25,0,25,50,75,100,125,150,175,200,225,250,275,300,325,350,375,400,425,450,475,500,525,550], "labelExpr": "datum.value >= 0 && datum.value % 50 == 0 ? datum.label : ''", "tickSize": {"condition": {"test": "datum.value >= 0 && datum.value % 50 == 0", "value": 18}, "value": 10}, "labelOverlap": false, "labelFlush": false, "labelPadding": 22, "titlePadding": 16}},
    "strokeDash": {"field": "s", "type": "nominal", "scale": {"domain": ["0.001 wt%","0.0005 wt%","0.0001 wt%","5e-005 wt%","1e-005 wt%"], "range": [[1,0],[12,6],[3,5],[12,5,3,5],[12,5,3,5,3,5]]},
     "legend": {"orient": "none", "legendX": 172, "legendY": 397, "values": ["5e-005 wt%","1e-005 wt%"], "symbolType": "M-3.3,0H3.3", "symbolSize": 1600, "symbolStrokeWidth": 2.2, "symbolStrokeColor": "black", "labelExpr": "''", "labelOpacity": 0, "labelFontSize": 59, "rowPadding": 15, "labelLimit": 2000}}
   }},
  {"data": {"name": "pts"}, "transform": [{"filter": "datum.p == 'b' && datum.s == '0.001 wt%'"}], "mark": {"type": "point", "shape": "square", "filled": true, "color": "black", "opacity": 1, "size": 676}, "encoding": {"x": {"field": "x", "type": "quantitative"}, "y": {"field": "y", "type": "quantitative"}}},
  {"data": {"name": "pts"}, "transform": [{"filter": "datum.p == 'b' && datum.s == '0.0005 wt%'"}], "mark": {"type": "point", "shape": "circle", "filled": true, "color": "black", "opacity": 1, "size": 784}, "encoding": {"x": {"field": "x", "type": "quantitative"}, "y": {"field": "y", "type": "quantitative"}}},
  {"data": {"name": "pts"}, "transform": [{"filter": "datum.p == 'b' && datum.s == '0.0001 wt%'"}], "mark": {"type": "point", "shape": "triangle-up", "filled": true, "color": "black", "opacity": 1, "size": 900}, "encoding": {"x": {"field": "x", "type": "quantitative"}, "y": {"field": "y", "type": "quantitative"}}},
  {"data": {"name": "pts"}, "transform": [{"filter": "datum.p == 'b' && datum.s == '5e-005 wt%'"}], "mark": {"type": "point", "shape": "triangle-down", "filled": true, "color": "black", "opacity": 1, "size": 900}, "encoding": {"x": {"field": "x", "type": "quantitative"}, "y": {"field": "y", "type": "quantitative"}}},
  {"data": {"name": "pts"}, "transform": [{"filter": "datum.p == 'b' && datum.s == '1e-005 wt%'"}], "mark": {"type": "point", "shape": "diamond", "filled": true, "color": "black", "opacity": 1, "size": 1050}, "encoding": {"x": {"field": "x", "type": "quantitative"}, "y": {"field": "y", "type": "quantitative"}}},
  {"data": {"values": []},
   "mark": {"type": "point", "filled": true, "color": "black", "opacity": 1},
   "encoding": {
    "shape": {"field": "s", "type": "nominal", "scale": {"domain": ["0.001 wt%","0.0005 wt%","0.0001 wt%","5e-005 wt%","1e-005 wt%","1e-005 wt%"], "range": ["square","circle","triangle-up","triangle-down","diamond"]},
     "legend": {"orient": "none", "legendX": 169, "legendY": 175, "symbolSize": 676, "symbolStrokeWidth": 0, "symbolFillColor": "black", "labelOffset": 52, "rowPadding": 15, "labelFontSize": 59, "labelLimit": 2000}}
   }},
  {"data": {"values": [{}]},
   "mark": {"type": "rule", "color": "black", "strokeWidth": 2.5},
   "encoding": {"x": {"datum": -3}, "y": {"datum": -25}, "y2": {"datum": 550}}},
  {"data": {"values": [{}]},
   "mark": {"type": "text", "text": "b)", "fontSize": 52, "align": "center", "baseline": "middle", "color": "black"},
   "encoding": {"x": {"datum": -10.46}, "y": {"datum": 601}}},
  {"data": {"values": [{}]},
   "mark": {"type": "text", "text": "3", "fontSize": 72, "font": "Liberation Serif", "align": "center", "baseline": "middle", "color": "black"},
   "encoding": {"x": {"datum": 63.1}, "y": {"datum": -99}}}
 ]
},
{
 "width": 1591, "height": 1170,
 "title": {"text": "PS-b-PGL(3)", "frame": "group", "dx": 19, "offset": 0, "dy": 108},
 "layer": [
  {"data": {"name": "fit"}, "transform": [{"filter": "datum.p == 'c'"}],
   "mark": {"type": "line", "interpolate": "monotone", "strokeWidth": 2.2, "color": "black"},
   "encoding": {
    "x": {"field": "x", "type": "quantitative", "scale": {"domain": [-3, 60], "nice": false, "zero": false},
     "axis": {"title": "Water content /%", "values": [-2.5,0,2.5,5,7.5,10,12.5,15,17.5,20,22.5,25,27.5,30,32.5,35,37.5,40,42.5,45,47.5,50,52.5,55,57.5,60], "labelExpr": "datum.value % 5 == 0 ? datum.label : ''", "tickSize": {"condition": {"test": "datum.value % 5 == 0", "value": 18}, "value": 10}, "labelOverlap": false, "labelFlush": false, "labelPadding": 28, "titlePadding": 45}},
    "y": {"field": "y", "type": "quantitative", "scale": {"domain": [-25, 450], "nice": false, "zero": false},
     "axis": {"title": "Intensity /KCPS", "values": [-25,0,25,50,75,100,125,150,175,200,225,250,275,300,325,350,375,400,425,450], "labelExpr": "datum.value >= 0 && datum.value % 50 == 0 ? datum.label : ''", "tickSize": {"condition": {"test": "datum.value >= 0 && datum.value % 50 == 0", "value": 18}, "value": 10}, "labelOverlap": false, "labelFlush": false, "labelPadding": 22, "titlePadding": 32}},
    "strokeDash": {"field": "s", "type": "nominal", "scale": {"domain": ["0.001 wt%","0.0005 wt%","0.0001 wt%","5e-005 wt%","1e-005 wt%"], "range": [[1,0],[12,6],[3,5],[12,5,3,5],[12,5,3,5,3,5]]},
     "legend": {"orient": "none", "legendX": 178, "legendY": 86, "values": ["0.001 wt%","0.0005 wt%","0.0001 wt%"], "symbolType": "M-3.7,0H3.7", "symbolSize": 1600, "symbolStrokeWidth": 2.2, "symbolStrokeColor": "black", "labelExpr": "''", "labelOpacity": 0, "labelFontSize": 62, "rowPadding": 16, "labelLimit": 2000}}
   }},
  {"data": {"name": "pts"}, "transform": [{"filter": "datum.p == 'c' && datum.s == '0.001 wt%'"}], "mark": {"type": "point", "shape": "square", "filled": true, "color": "black", "opacity": 1, "size": 676}, "encoding": {"x": {"field": "x", "type": "quantitative"}, "y": {"field": "y", "type": "quantitative"}}},
  {"data": {"name": "pts"}, "transform": [{"filter": "datum.p == 'c' && datum.s == '0.0005 wt%'"}], "mark": {"type": "point", "shape": "circle", "filled": true, "color": "black", "opacity": 1, "size": 784}, "encoding": {"x": {"field": "x", "type": "quantitative"}, "y": {"field": "y", "type": "quantitative"}}},
  {"data": {"name": "pts"}, "transform": [{"filter": "datum.p == 'c' && datum.s == '0.0001 wt%'"}], "mark": {"type": "point", "shape": "triangle-up", "filled": true, "color": "black", "opacity": 1, "size": 900}, "encoding": {"x": {"field": "x", "type": "quantitative"}, "y": {"field": "y", "type": "quantitative"}}},
  {"data": {"name": "pts"}, "transform": [{"filter": "datum.p == 'c' && datum.s == '5e-005 wt%'"}], "mark": {"type": "point", "shape": "triangle-down", "filled": true, "color": "black", "opacity": 1, "size": 900}, "encoding": {"x": {"field": "x", "type": "quantitative"}, "y": {"field": "y", "type": "quantitative"}}},
  {"data": {"name": "pts"}, "transform": [{"filter": "datum.p == 'c' && datum.s == '1e-005 wt%'"}], "mark": {"type": "point", "shape": "diamond", "filled": true, "color": "black", "opacity": 1, "size": 1050}, "encoding": {"x": {"field": "x", "type": "quantitative"}, "y": {"field": "y", "type": "quantitative"}}},
  {"data": {"values": []},
   "mark": {"type": "line", "strokeWidth": 2.2, "color": "black"},
   "encoding": {
    "strokeDash": {"field": "s", "type": "nominal", "scale": {"domain": ["1e-005 wt%"], "range": [[12,5,3,5,3,5]]},
     "legend": {"orient": "none", "legendX": 178, "legendY": 398, "symbolType": "M-3.7,0H3.7", "symbolSize": 1600, "symbolStrokeWidth": 2.2, "symbolStrokeColor": "black", "labelExpr": "''", "labelOpacity": 0, "labelFontSize": 62, "rowPadding": 16, "labelLimit": 2000}}
   }},
  {"data": {"values": []},
   "mark": {"type": "point", "filled": true, "color": "black", "opacity": 1},
   "encoding": {
    "shape": {"field": "s", "type": "nominal", "scale": {"domain": ["0.001 wt%","0.0005 wt%","0.0001 wt%","5e-005 wt%","1e-005 wt%","1e-005 wt%"], "range": ["square","circle","triangle-up","triangle-down","diamond"]},
     "legend": {"orient": "none", "legendX": 177, "legendY": 86, "symbolSize": 676, "symbolStrokeWidth": 0, "symbolFillColor": "black", "labelOffset": 55, "rowPadding": 16, "labelFontSize": 62, "labelLimit": 2000}}
   }},
  {"data": {"values": [{}]},
   "mark": {"type": "text", "text": "c)", "fontSize": 52, "align": "center", "baseline": "middle", "color": "black"},
   "encoding": {"x": {"datum": -10.5}, "y": {"datum": 479}}}
 ],
 "resolve": {"scale": {"strokeDash": "independent"}}
},
{
 "width": 1573, "height": 1170,
 "title": {"text": "PS-b-PGL(4)", "frame": "group", "dx": -4, "offset": 0, "dy": 132},
 "layer": [
  {"data": {"name": "fit"}, "transform": [{"filter": "datum.p == 'd'"}],
   "mark": {"type": "line", "interpolate": "monotone", "strokeWidth": 2.2, "color": "black"},
   "encoding": {
    "x": {"field": "x", "type": "quantitative", "scale": {"domain": [-3, 60], "nice": false, "zero": false},
     "axis": {"title": "Water content /%", "values": [-2.5,0,2.5,5,7.5,10,12.5,15,17.5,20,22.5,25,27.5,30,32.5,35,37.5,40,42.5,45,47.5,50,52.5,55,57.5,60], "labelExpr": "datum.value % 5 == 0 ? datum.label : ''", "tickSize": {"condition": {"test": "datum.value % 5 == 0", "value": 18}, "value": 10}, "labelOverlap": false, "labelFlush": false, "labelPadding": 28, "titlePadding": 43}},
    "y": {"field": "y", "type": "quantitative", "scale": {"domain": [-25, 250], "nice": false, "zero": false},
     "axis": {"title": "Intensity /KCPS", "values": [-12.5,0,12.5,25,37.5,50,62.5,75,87.5,100,112.5,125,137.5,150,162.5,175,187.5,200,212.5,225,237.5,250], "labelExpr": "datum.value >= 0 && datum.value % 25 == 0 ? datum.label : ''", "tickSize": {"condition": {"test": "datum.value >= 0 && datum.value % 25 == 0", "value": 18}, "value": 10}, "labelOverlap": false, "labelFlush": false, "labelPadding": 22, "titlePadding": 44}},
    "strokeDash": {"field": "s", "type": "nominal", "scale": {"domain": ["0.001 wt%","0.0005 wt%","0.0001 wt%","5e-005 wt%","1e-005 wt%"], "range": [[1,0],[12,6],[3,5],[12,5,3,5],[12,5,3,5,3,5]]},
     "legend": {"orient": "none", "legendX": 164, "legendY": 86, "symbolType": "M-3.78,0H3.78", "symbolSize": 1600, "symbolStrokeWidth": 2.2, "symbolStrokeColor": "black", "labelExpr": "''", "labelOpacity": 0, "labelFontSize": 62, "rowPadding": 16, "labelLimit": 2000}}
   }},
  {"data": {"name": "pts"}, "transform": [{"filter": "datum.p == 'd' && datum.s == '0.001 wt%'"}], "mark": {"type": "point", "shape": "square", "filled": true, "color": "black", "opacity": 1, "size": 676}, "encoding": {"x": {"field": "x", "type": "quantitative"}, "y": {"field": "y", "type": "quantitative"}}},
  {"data": {"name": "pts"}, "transform": [{"filter": "datum.p == 'd' && datum.s == '0.0005 wt%'"}], "mark": {"type": "point", "shape": "circle", "filled": true, "color": "black", "opacity": 1, "size": 784}, "encoding": {"x": {"field": "x", "type": "quantitative"}, "y": {"field": "y", "type": "quantitative"}}},
  {"data": {"name": "pts"}, "transform": [{"filter": "datum.p == 'd' && datum.s == '0.0001 wt%'"}], "mark": {"type": "point", "shape": "triangle-up", "filled": true, "color": "black", "opacity": 1, "size": 900}, "encoding": {"x": {"field": "x", "type": "quantitative"}, "y": {"field": "y", "type": "quantitative"}}},
  {"data": {"name": "pts"}, "transform": [{"filter": "datum.p == 'd' && datum.s == '5e-005 wt%'"}], "mark": {"type": "point", "shape": "triangle-down", "filled": true, "color": "black", "opacity": 1, "size": 900}, "encoding": {"x": {"field": "x", "type": "quantitative"}, "y": {"field": "y", "type": "quantitative"}}},
  {"data": {"name": "pts"}, "transform": [{"filter": "datum.p == 'd' && datum.s == '1e-005 wt%'"}], "mark": {"type": "point", "shape": "diamond", "filled": true, "color": "black", "opacity": 1, "size": 1050}, "encoding": {"x": {"field": "x", "type": "quantitative"}, "y": {"field": "y", "type": "quantitative"}}},
  {"data": {"values": []},
   "mark": {"type": "point", "filled": true, "color": "black", "opacity": 1},
   "encoding": {
    "shape": {"field": "s", "type": "nominal", "scale": {"domain": ["0.001 wt%","0.0005 wt%","0.0001 wt%","5e-005 wt%","1e-005 wt%","1e-005 wt%"], "range": ["square","circle","triangle-up","triangle-down","diamond"]},
     "legend": {"orient": "none", "legendX": 164, "legendY": 86, "symbolSize": 676, "symbolStrokeWidth": 0, "symbolFillColor": "black", "labelOffset": 55, "rowPadding": 16, "labelFontSize": 62, "labelLimit": 2000}}
   }},
  {"data": {"values": [{}]},
   "mark": {"type": "text", "text": "d)", "fontSize": 52, "align": "center", "baseline": "middle", "color": "black"},
   "encoding": {"x": {"datum": -11.1}, "y": {"datum": 269.7}}}
 ]
}
]
}
